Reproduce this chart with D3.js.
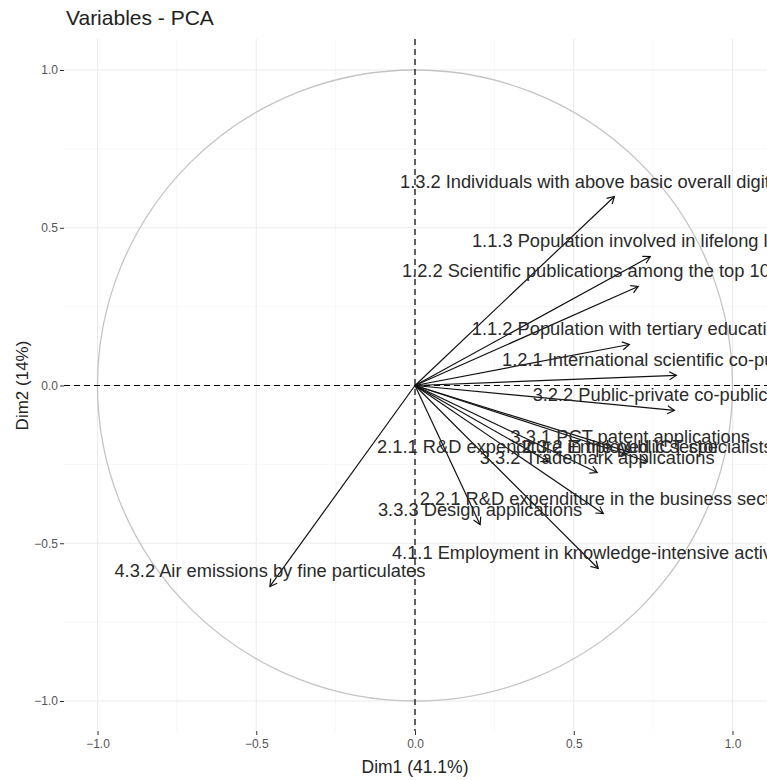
<!DOCTYPE html>
<html>
<head>
<meta charset="utf-8">
<script src="https://cdn.jsdelivr.net/npm/d3@7"></script>
<style>
  html, body { margin: 0; padding: 0; background: #fff; }
  svg { display: block; font-family: "Liberation Sans", Arial, sans-serif; }
</style>
</head>
<body>
<svg id="chart" width="767" height="780"></svg>
<script>
// ---- data ----
const variables = [
  "1.3.2 Individuals with above basic overall digital skills",
  "1.1.3 Population involved in lifelong learning",
  "1.2.2 Scientific publications among the top 10% most cited",
  "1.1.2 Population with tertiary education",
  "1.2.1 International scientific co-publications",
  "3.2.2 Public-private co-publications",
  "3.3.1 PCT patent applications",
  "2.1.1 R&D expenditure in the public sector",
  "2.3.2 Employed ICT specialists",
  "3.3.2 Trademark applications",
  "2.2.1 R&D expenditure in the business sector",
  "3.3.3 Design applications",
  "4.1.1 Employment in knowledge-intensive activities",
  "4.3.2 Air emissions by fine particulates"
];
const dim1 = [0.628, 0.741, 0.703, 0.675, 0.823, 0.817, 0.678, 0.420, 0.732, 0.574, 0.593, 0.205, 0.577, -0.457];
const dim2 = [0.599, 0.409, 0.314, 0.130, 0.032, -0.079, -0.212, -0.241, -0.241, -0.276, -0.406, -0.441, -0.580, -0.637];
const tickValues = [-1.0, -0.5, 0.0, 0.5, 1.0];
const minorValues = [-0.75, -0.25, 0.25, 0.75];
const title = "Variables - PCA";
const xTitle = "Dim1 (41.1%)";
const yTitle = "Dim2 (14%)";

// ---- layout ----
const svg = d3.select("#chart");
const x = d3.scaleLinear().domain([-1, 1]).range([97.5, 732.5]);
const y = d3.scaleLinear().domain([-1, 1]).range([701, 70]);
const panel = { left: 64, right: 767, top: 39, bottom: 731 };

// grid
const g = svg.append("g");
minorValues.forEach(v => {
  g.append("line").attr("x1", x(v)).attr("x2", x(v)).attr("y1", panel.top).attr("y2", panel.bottom)
    .attr("stroke", "#f2f2f2").attr("stroke-width", 0.6);
  g.append("line").attr("y1", y(v)).attr("y2", y(v)).attr("x1", panel.left).attr("x2", panel.right)
    .attr("stroke", "#f2f2f2").attr("stroke-width", 0.6);
});
tickValues.forEach(v => {
  g.append("line").attr("x1", x(v)).attr("x2", x(v)).attr("y1", panel.top).attr("y2", panel.bottom)
    .attr("stroke", "#ebebeb").attr("stroke-width", 1.1);
  g.append("line").attr("y1", y(v)).attr("y2", y(v)).attr("x1", panel.left).attr("x2", panel.right)
    .attr("stroke", "#ebebeb").attr("stroke-width", 1.1);
});

// axes
const fmt = d3.format(".1f");
const yAxis = svg.append("g").attr("transform", `translate(${panel.left},0)`)
  .call(d3.axisLeft(y).tickValues(tickValues).tickFormat(fmt).tickSize(4).tickPadding(2));
const xAxis = svg.append("g").attr("transform", `translate(0,${panel.bottom})`)
  .call(d3.axisBottom(x).tickValues(tickValues).tickFormat(fmt).tickSize(4).tickPadding(4));
[xAxis, yAxis].forEach(a => {
  a.select(".domain").remove();
  a.selectAll(".tick line").attr("stroke", "#333").attr("stroke-width", 1);
  a.selectAll(".tick text").attr("fill", "#555").style("font-size", "12px")
    .style("font-family", "'Liberation Sans', Arial, sans-serif");
});

// correlation circle
svg.append("ellipse")
  .attr("cx", x(0)).attr("cy", y(0))
  .attr("rx", x(1) - x(0)).attr("ry", y(0) - y(1))
  .attr("fill", "none").attr("stroke", "#c4c4c4").attr("stroke-width", 1.3);

// dashed zero lines
svg.append("line").attr("x1", x(0)).attr("x2", x(0)).attr("y1", panel.top).attr("y2", panel.bottom)
  .attr("stroke", "#000").attr("stroke-width", 1.2).attr("stroke-dasharray", "6,4");
svg.append("line").attr("y1", y(0)).attr("y2", y(0)).attr("x1", panel.left).attr("x2", panel.right)
  .attr("stroke", "#000").attr("stroke-width", 1.2).attr("stroke-dasharray", "6,4");

// arrows
const data = variables.map((name, i) => ({ name, d1: dim1[i], d2: dim2[i] }));
const arrows = svg.append("g");
const headLen = 8, headAng = Math.PI / 6;
data.forEach(d => {
  const x0 = x(0), y0 = y(0), x1 = x(d.d1), y1 = y(d.d2);
  const ang = Math.atan2(y1 - y0, x1 - x0);
  arrows.append("line").attr("x1", x0).attr("y1", y0).attr("x2", x1).attr("y2", y1)
    .attr("stroke", "#111").attr("stroke-width", 1.2);
  const p = d3.path();
  p.moveTo(x1 - headLen * Math.cos(ang - headAng), y1 - headLen * Math.sin(ang - headAng));
  p.lineTo(x1, y1);
  p.lineTo(x1 - headLen * Math.cos(ang + headAng), y1 - headLen * Math.sin(ang + headAng));
  arrows.append("path").attr("d", p.toString()).attr("fill", "none")
    .attr("stroke", "#111").attr("stroke-width", 1.2);
});

// labels
svg.append("g").selectAll("text").data(data).join("text")
  .attr("x", d => x(d.d1))
  .attr("y", d => y(d.d2) - 9)
  .attr("text-anchor", "middle")
  .attr("fill", "#2a2a2a")
  .style("font-size", "18.3px")
  .text(d => d.name);

// titles
svg.append("text").attr("x", 66).attr("y", 25).attr("fill", "#222")
  .style("font-size", "21px").text(title);
svg.append("text").attr("x", x(0)).attr("y", 773).attr("text-anchor", "middle")
  .attr("fill", "#222").style("font-size", "17.5px").text(xTitle);
svg.append("text").attr("transform", `translate(28,${y(0)}) rotate(-90)`)
  .attr("text-anchor", "middle").attr("fill", "#222").style("font-size", "17px").text(yTitle);
</script>
</body>
</html>
